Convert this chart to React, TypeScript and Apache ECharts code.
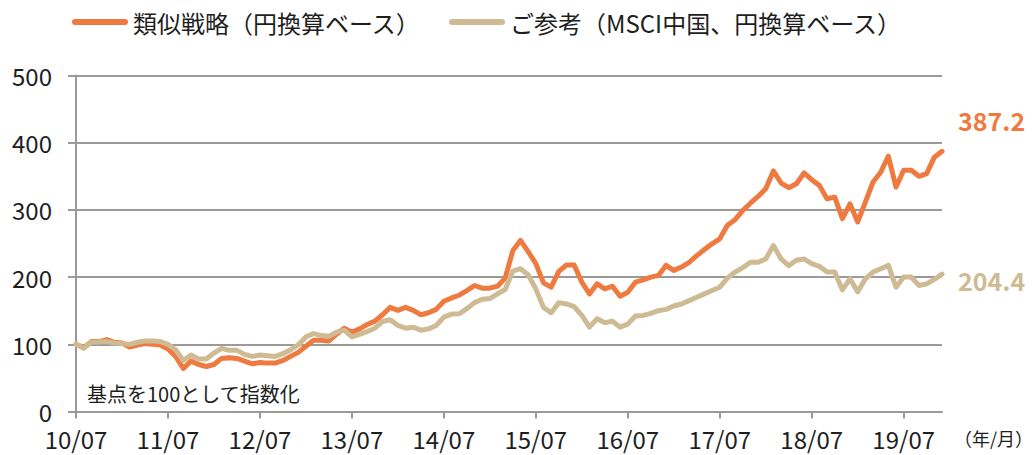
import React, { useEffect, useRef } from "react";
import * as echarts from "echarts";

const START_YEAR = 2010;
const START_MONTH = 7;
const N_MONTHS = 114;
const categories: string[] = [];
for (let i = 0; i < N_MONTHS; i++) {
  const m = START_MONTH - 1 + i;
  const y = START_YEAR + Math.floor(m / 12);
  const mm = (m % 12) + 1;
  categories.push(`${String(y % 100).padStart(2, "0")}/${String(mm).padStart(2, "0")}`);
}

const seriesNames = ["類似戦略（円換算ベース）", "ご参考（MSCI中国、円換算ベース）"];

const strategy = [
  100, 95, 104, 104, 107, 103, 102, 96, 99, 101,
  100, 99, 93, 82, 64, 75, 70, 67, 70, 79,
  80, 79, 75, 71, 73, 72, 72, 76, 82, 88,
  97, 106, 106, 105, 115, 124, 118, 123, 129.5, 134.5,
  144, 155, 150.5, 155, 150.5, 144, 147, 152, 164, 169,
  173, 180, 187.5, 183.5, 183.5, 186.5, 198.5, 239.5, 254.5, 238,
  220, 191.5, 185, 208.5, 218, 218, 192.5, 175, 190, 182.5,
  186.5, 171.5, 177.5, 192.5, 196, 200, 202.5, 217.5, 210, 215,
  222, 232, 241, 249.5, 257, 277, 285.5, 299, 310, 320,
  331.5, 358, 340, 333, 339, 355, 345, 336.5, 316.5, 319,
  287, 309, 282, 311.5, 341.5, 356, 380, 334, 359, 359,
  350, 354, 378.5, 387.2,
];

const msci = [
  100, 94, 103, 103.5, 104, 102, 101, 100, 103, 105,
  105, 104, 100, 92, 76, 84, 78, 78, 87, 94,
  91, 91, 85, 82, 84, 83, 82, 86, 92, 99,
  111, 116, 113, 112, 118, 121, 111, 114.7, 119, 124,
  134, 136.5, 128, 124, 125.5, 121, 123, 128, 140.5, 145,
  145.5, 153, 162, 167, 168, 175, 181.5, 209, 212.5, 203.5,
  182.5, 155, 147, 162, 160, 156, 143, 125.5, 138, 132,
  134.5, 125.5, 130, 142, 143, 146, 150, 152, 157, 160,
  165, 170, 175, 180, 185, 198.5, 207.5, 214, 222, 222,
  227, 247, 227, 217, 225, 227, 220, 216, 207.5, 207.5,
  181, 197.5, 178, 197.5, 207.5, 212.5, 217.5, 185, 200, 200,
  187.5, 190, 196.5, 204.4,
];

const yTicks = { min: 0, max: 500, interval: 100 };
const tickEvery = 12;
const noteText = "基点を100として指数化";
const unitText = "（年/月）";

const ORANGE = "#EF7A40";
const TAN = "#CEBB93";
const GRID = "#9a9a9a";
const TEXT = "#1e1e1e";
const FONT = "'Noto Sans CJK JP', 'Noto Sans', sans-serif";

export default function App() {
  const ref = useRef<HTMLDivElement>(null);
  useEffect(() => {
    if (!ref.current) return;
    const chart = echarts.init(ref.current, null, { renderer: "svg" });
    const legendIcon = "path://M3,0L53,0A3,3,0,0,1,53,6L3,6A3,3,0,0,1,3,0Z";
    chart.setOption({
      animation: false,
      textStyle: { fontFamily: FONT },
      legend: {
        left: 72,
        top: 10,
        padding: 0,
        itemWidth: 56,
        itemHeight: 6,
        itemGap: 28,
        icon: legendIcon,
        textStyle: { fontSize: 24, color: TEXT, fontFamily: FONT },
        data: seriesNames,
      },
      grid: {
        left: 76,
        right: 93,
        top: 75.5,
        bottom: 43.5,
        containLabel: false,
        outerBoundsMode: "none",
      },
      xAxis: {
        type: "category",
        data: categories,
        boundaryGap: false,
        axisLine: { lineStyle: { color: GRID, width: 2 } },
        axisTick: {
          show: true,
          length: 7,
          interval: (i: number) => i % tickEvery === 0,
          lineStyle: { color: GRID, width: 2 },
        },
        axisLabel: {
          interval: (i: number) => i % tickEvery === 0,
          fontSize: 24,
          lineHeight: 20,
          color: TEXT,
          margin: 17,
          fontFamily: FONT,
        },
        splitLine: { show: false },
      },
      yAxis: {
        type: "value",
        min: yTicks.min,
        max: yTicks.max,
        interval: yTicks.interval,
        axisLine: { show: true, lineStyle: { color: GRID, width: 2 } },
        axisTick: { show: true, length: 8, lineStyle: { color: GRID, width: 2 } },
        axisLabel: { fontSize: 24, lineHeight: 18, color: TEXT, margin: 24, fontFamily: FONT },
        splitLine: { show: true, lineStyle: { color: GRID, width: 2 } },
      },
      graphic: [
        {
          type: "text",
          left: 87,
          top: 383,
          style: { text: noteText, fontSize: 20, fill: TEXT, fontFamily: FONT },
        },
        {
          type: "text",
          left: 954,
          top: 429,
          style: { text: unitText, fontSize: 18, fill: TEXT, fontFamily: FONT },
        },
      ],
      series: [
        {
          name: seriesNames[0],
          type: "line",
          data: strategy,
          symbol: "none",
          lineStyle: { color: ORANGE, width: 5, cap: "round", join: "round" },
          itemStyle: { color: ORANGE },
          endLabel: {
            show: true,
            formatter: (p: any) => Number(p.value).toFixed(1),
            distance: 16,
            offset: [0, -31],
            fontSize: 25,
            fontWeight: "bold",
            color: ORANGE,
            fontFamily: FONT,
          },
          z: 2,
        },
        {
          name: seriesNames[1],
          type: "line",
          data: msci,
          symbol: "none",
          lineStyle: { color: TAN, width: 5, cap: "round", join: "round" },
          itemStyle: { color: TAN },
          endLabel: {
            show: true,
            formatter: (p: any) => Number(p.value).toFixed(1),
            distance: 16,
            offset: [0, 6],
            fontSize: 25,
            fontWeight: "bold",
            color: TAN,
            fontFamily: FONT,
          },
          z: 3,
        },
      ],
    });
    return () => chart.dispose();
  }, []);
  return (
    <div
      ref={ref}
      style={{ position: "absolute", left: 0, top: 0, width: 1035, height: 455, background: "#fff" }}
    />
  );
}
